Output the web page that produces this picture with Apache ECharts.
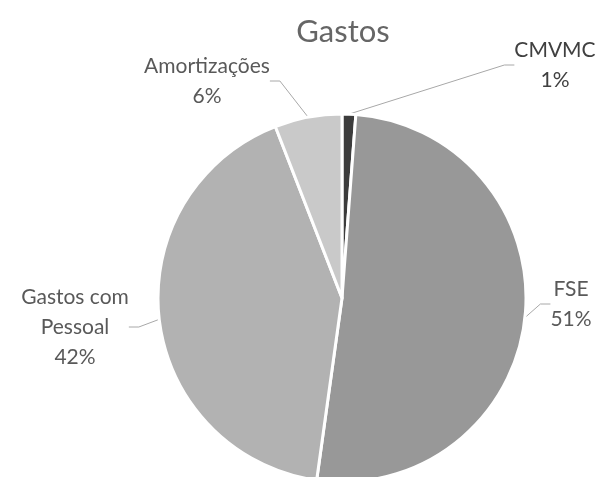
<!DOCTYPE html>
<html><head><meta charset="utf-8">
<script src="https://cdn.jsdelivr.net/npm/echarts@6/dist/echarts.min.js"></script>
<style>html,body{margin:0;padding:0;background:#fff}#c{width:614px;height:477px}</style>
</head><body><div id="c"></div>
<script>
const categories = ['CMVMC', 'FSE', 'Gastos com\nPessoal', 'Amortizações'];
const values = [1.2, 51.0, 41.9, 5.9];
const percentLabels = ['1%', '51%', '42%', '6%'];
const colors = ['#3c3c3c', '#989898', '#b2b2b2', '#c9c9c9'];
const labelColors = ['#404040', '#595959', '#595959', '#595959'];
const labelPos = [[555, 65], [571, 304], [75, 327], [207, 81]];

const chart = echarts.init(document.getElementById('c'));
chart.setOption({
  animation: false,
  title: {
    text: 'Gastos', left: 338, top: 11, textAlign: 'center',
    textStyle: { fontFamily: 'Lato', fontSize: 31, fontWeight: 'normal', color: '#666666' }
  },
  series: [{
    type: 'pie',
    center: [342, 298],
    radius: 184,
    startAngle: 90,
    clockwise: true,
    data: categories.map((c, i) => ({ name: c, value: values[i], itemStyle: { color: colors[i] }, label: { color: labelColors[i] } })),
    itemStyle: { borderColor: '#ffffff', borderWidth: 3 },
    label: {
      show: true, position: 'outside',
      formatter: p => p.name + '\n' + percentLabels[p.dataIndex],
      fontFamily: 'Lato', fontSize: 21, color: '#595959', lineHeight: 30, align: 'center'
    },
    labelLine: { show: true, length: 10, length2: 10, lineStyle: { color: '#a8a8a8', width: 1 } },
    labelLayout: p => ({ x: labelPos[p.dataIndex][0], y: labelPos[p.dataIndex][1], align: 'center', verticalAlign: 'middle' })
  }]
});
</script></body></html>
